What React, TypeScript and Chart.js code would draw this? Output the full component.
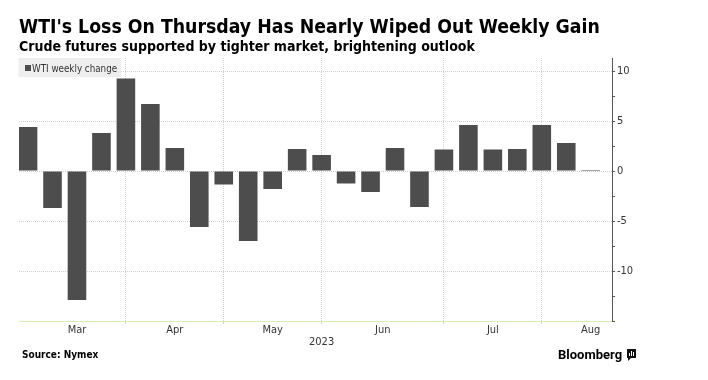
import { useEffect, useRef } from 'react';
import { Chart, registerables } from 'chart.js';

Chart.register(...registerables);

const TITLE = "WTI's Loss On Thursday Has Nearly Wiped Out Weekly Gain";
const SUBTITLE = 'Crude futures supported by tighter market, brightening outlook';
const SERIES_NAME = 'WTI weekly change';
const SOURCE = 'Source: Nymex';
const BRAND = 'Bloomberg';

// Weekly observations (week ending)
const weeks = [
  'Mar 10', 'Mar 17', 'Mar 24', 'Mar 31',
  'Apr 7', 'Apr 14', 'Apr 21', 'Apr 28',
  'May 5', 'May 12', 'May 19', 'May 26',
  'Jun 2', 'Jun 9', 'Jun 16', 'Jun 23', 'Jun 30',
  'Jul 7', 'Jul 14', 'Jul 21', 'Jul 28',
  'Aug 4', 'Aug 11', 'Aug 18',
];

// WTI weekly change (%)
const weeklyChange = [
  4.4, -3.7, -12.9, 3.8,
  9.25, 6.7, 2.3, -5.6,
  -1.35, -7.0, -1.8, 2.2,
  1.6, -1.25, -2.1, 2.3, -3.6,
  2.15, 4.6, 2.15, 2.2,
  4.6, 2.8, 0.1,
];

const monthNames = ['Mar', 'Apr', 'May', 'Jun', 'Jul', 'Aug'];
const yearLabel = '2023';

const yTickValues = [-15, -12.5, -10, -7.5, -5, -2.5, 0, 2.5, 5, 7.5, 10];
const yLabelValues = [-10, -5, 0, 5, 10];

const FAMILY = '"DejaVu Sans Condensed", "DejaVu Sans", sans-serif';
const BAR_COLOR = '#4d4d4d';
const GRID_COLOR = '#d2d2d2';
const TEXT_COLOR = '#333333';

// Build x tick definitions from the weekly categories
const monthStarts = monthNames.map((m) => weeks.findIndex((w) => w.startsWith(m)));
type TickDef = { value: number; label: string | string[]; grid: boolean };
const xTickDefs: TickDef[] = [];
monthStarts.forEach((s, i) => {
  const e = i < monthStarts.length - 1 ? monthStarts[i + 1] : weeks.length + 1;
  xTickDefs.push({ value: (s + e) / 2, label: monthNames[i], grid: false });
  if (i > 0) {
    xTickDefs.push({
      value: s,
      label: i === Math.floor(monthStarts.length / 2) ? ['', yearLabel] : '',
      grid: true,
    });
  }
});
xTickDefs.sort((a, b) => a.value - b.value);

const decorPlugin = {
  id: 'decor',
  afterDraw(chart: any) {
    const ctx = chart.ctx as CanvasRenderingContext2D;
    const { left, top } = chart.chartArea;
    ctx.save();
    ctx.textAlign = 'left';
    ctx.textBaseline = 'alphabetic';

    // Title & subtitle
    ctx.fillStyle = '#000000';
    ctx.font = `bold 19.3px ${FAMILY}`;
    ctx.fillText(TITLE, 19, 33);
    ctx.font = `bold 14px ${FAMILY}`;
    ctx.fillText(SUBTITLE, 19, 51);

    // Legend box
    ctx.font = `9.75px ${FAMILY}`;
    const tw = ctx.measureText(SERIES_NAME).width;
    ctx.fillStyle = '#eeeeee';
    ctx.fillRect(left - 0.5, top, 13 + tw + 4.5, 19);
    ctx.fillStyle = BAR_COLOR;
    ctx.fillRect(left + 6, top + 7, 6, 6);
    ctx.fillStyle = TEXT_COLOR;
    ctx.fillText(SERIES_NAME, left + 13, top + 13.5);

    // Footer
    ctx.fillStyle = '#000000';
    ctx.font = `bold 10px ${FAMILY}`;
    ctx.fillText(SOURCE, 22, 358);
    ctx.font = 'bold 13px Roboto';
    ctx.fillText(BRAND, 558, 359);

    // small brand mark
    ctx.fillStyle = '#111111';
    ctx.fillRect(627, 349, 9, 9);
    ctx.beginPath();
    ctx.moveTo(628, 357);
    ctx.lineTo(628, 361);
    ctx.lineTo(632, 357);
    ctx.closePath();
    ctx.fill();
    ctx.fillStyle = '#ffffff';
    ctx.fillRect(629, 353, 1, 3);
    ctx.fillRect(631, 351, 1, 5);
    ctx.fillRect(633, 352, 1, 4);
    ctx.restore();
  },
};

export default function App() {
  const canvasRef = useRef<HTMLCanvasElement | null>(null);

  useEffect(() => {
    const canvas = canvasRef.current;
    if (!canvas) return;
    const chart = new Chart(canvas, {
      type: 'bar',
      data: {
        datasets: [
          {
            label: SERIES_NAME,
            data: weeklyChange.map((v, i) => ({ x: i, y: v })),
            backgroundColor: BAR_COLOR,
            borderWidth: 0,
            barPercentage: 0.76,
            categoryPercentage: 1,
          },
        ],
      },
      options: {
        responsive: false,
        animation: false,
        devicePixelRatio: 1,
        layout: { padding: { top: 58, left: 19, right: 0, bottom: 0 } },
        plugins: {
          legend: { display: false },
          tooltip: { enabled: false },
          title: { display: false },
        },
        scales: {
          x: {
            type: 'linear',
            offset: false,
            min: -0.37,
            max: 23.87,
            afterBuildTicks: (scale: any) => {
              scale.ticks = xTickDefs.map((t) => ({ value: t.value }));
            },
            afterFit: (scale: any) => {
              scale.height = 59;
            },
            ticks: {
              autoSkip: false,
              maxRotation: 0,
              padding: 0,
              color: TEXT_COLOR,
              font: { family: FAMILY, size: 11, lineHeight: 1.1 },
              callback: (_v: any, i: number) => xTickDefs[i]?.label ?? '',
            },
            grid: {
              offset: false,
              color: (c: any) => (xTickDefs[c.index]?.grid ? GRID_COLOR : 'rgba(0,0,0,0)'),
              tickColor: (c: any) => (xTickDefs[c.index]?.grid ? '#c5e09a' : 'rgba(0,0,0,0)'),
              tickLength: 3,
              tickBorderDash: [],
              lineWidth: 1,
            },
            border: { color: '#d8ecb6', width: 1, dash: [1, 1] },
          },
          y: {
            position: 'right',
            min: -15,
            max: 11.3,
            afterBuildTicks: (scale: any) => {
              scale.ticks = yTickValues.map((v) => ({ value: v }));
            },
            afterFit: (scale: any) => {
              scale.width = 96;
            },
            ticks: {
              autoSkip: false,
              padding: 2,
              color: TEXT_COLOR,
              font: { family: FAMILY, size: 11 },
              callback: (v: any) => (yLabelValues.includes(Number(v)) ? String(v) : ''),
            },
            grid: {
              color: (c: any) =>
                c.tick && yLabelValues.includes(c.tick.value) ? GRID_COLOR : 'rgba(0,0,0,0)',
              tickColor: '#555555',
              tickLength: 3,
              tickBorderDash: [],
              lineWidth: 1,
            },
            border: { color: '#555555', width: 1, dash: [1, 1] },
          },
        },
      },
      plugins: [decorPlugin],
    } as any);
    return () => chart.destroy();
  }, []);

  return (
    <div style={{ position: 'fixed', left: 0, top: 0, width: 708, height: 380, background: '#ffffff' }}>
      <canvas ref={canvasRef} width={708} height={380} style={{ display: 'block', width: 708, height: 380 }} />
    </div>
  );
}
